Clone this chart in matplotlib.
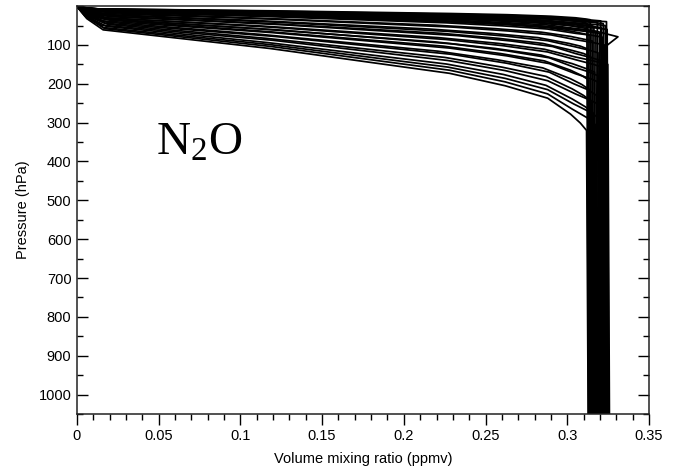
import matplotlib
matplotlib.use('Agg')
import matplotlib.pyplot as plt
from matplotlib.ticker import MultipleLocator

# pressure nodes (hPa) of each N2O profile
profile_pressure = [
    [1, 4, 7, 12, 19, 22, 26, 30, 33, 35, 1060],
    [1, 4, 7, 13, 21, 24, 28, 33, 36, 38, 1060],
    [1, 4, 8, 14, 22, 26, 30, 35, 38, 40, 1060],
    [1, 4, 8, 14, 23, 27, 31, 37, 39, 42, 1060],
    [1, 4, 8, 15, 24, 28, 33, 38, 41, 44, 1060],
    [1, 5, 9, 15, 24, 29, 33, 39, 42, 45, 1060],
    [1, 5, 9, 16, 26, 31, 36, 42, 45, 48, 1060],
    [1, 5, 10, 17, 27, 32, 37, 44, 47, 50, 1060],
    [1, 5, 10, 18, 28, 33, 38, 45, 49, 52, 1060],
    [1, 6, 10, 19, 30, 35, 41, 48, 52, 55, 1060],
    [1, 6, 11, 20, 31, 37, 43, 50, 55, 58, 1060],
    [1, 6, 11, 20, 32, 38, 44, 52, 56, 60, 1060],
    [1, 7, 12, 22, 35, 42, 48, 57, 61, 65, 1060],
    [1, 7, 13, 24, 38, 45, 52, 61, 66, 70, 1060],
    [1, 8, 14, 26, 41, 48, 56, 65, 71, 75, 1060],
    [1, 8, 15, 27, 43, 51, 59, 70, 75, 80, 1060],
    [1, 9, 17, 31, 49, 58, 67, 78, 85, 90, 1060],
    [1, 10, 19, 34, 54, 64, 74, 87, 94, 100, 1060],
    [1, 11, 21, 37, 59, 70, 81, 96, 103, 110, 1060],
    [1, 12, 23, 41, 65, 77, 89, 104, 113, 120, 1060],
    [1, 13, 25, 44, 70, 83, 96, 113, 122, 130, 1060],
    [1, 14, 27, 48, 76, 90, 104, 122, 132, 140, 1060],
    [1, 15, 29, 51, 81, 96, 111, 131, 141, 150, 1060],
    [1, 16, 30, 54, 86, 102, 118, 139, 150, 160, 1060],
    [1, 17, 32, 58, 92, 109, 126, 148, 160, 170, 1060],
    [1, 18, 34, 61, 97, 115, 133, 157, 169, 180, 1060],
    [1, 19, 36, 65, 103, 122, 141, 165, 179, 190, 1060],
    [1, 20, 38, 68, 108, 128, 148, 174, 188, 200, 1060],
    [1, 22, 41, 73, 116, 138, 159, 187, 202, 215, 1060],
    [1, 23, 44, 78, 124, 147, 170, 200, 216, 230, 1060],
    [1, 25, 47, 83, 132, 157, 181, 213, 230, 245, 1060],
    [1, 26, 49, 88, 140, 166, 192, 226, 244, 260, 1060],
    [1, 28, 52, 94, 149, 176, 204, 239, 259, 275, 1060],
    [1, 29, 55, 99, 157, 186, 215, 252, 273, 290, 1060],
    [1, 31, 58, 104, 165, 195, 226, 265, 287, 305, 1060],
    [1, 32, 61, 109, 173, 205, 237, 278, 301, 320, 1060],
    [1, 7, 13, 24, 38, 45, 52, 65, 79, 102, 1060],
]

# N2O volume mixing ratio (ppmv) at those nodes
profile_vmr = [
    [0, 0.003, 0.010, 0.118, 0.229, 0.263, 0.290, 0.305, 0.311, 0.3140, 0.3150],
    [0, 0.004, 0.013, 0.121, 0.231, 0.265, 0.291, 0.306, 0.315, 0.3205, 0.3215],
    [0, 0.004, 0.012, 0.120, 0.230, 0.264, 0.290, 0.306, 0.316, 0.3240, 0.3250],
    [0, 0.005, 0.015, 0.112, 0.222, 0.258, 0.285, 0.304, 0.313, 0.3184, 0.3194],
    [0, 0.004, 0.011, 0.116, 0.226, 0.261, 0.288, 0.303, 0.309, 0.3120, 0.3130],
    [0, 0.006, 0.018, 0.125, 0.232, 0.266, 0.291, 0.306, 0.316, 0.3220, 0.3230],
    [0, 0.004, 0.014, 0.110, 0.218, 0.255, 0.283, 0.302, 0.310, 0.3151, 0.3161],
    [0, 0.007, 0.020, 0.122, 0.228, 0.262, 0.288, 0.305, 0.316, 0.3232, 0.3242],
    [0, 0.005, 0.016, 0.115, 0.224, 0.259, 0.286, 0.303, 0.311, 0.3163, 0.3173],
    [0, 0.006, 0.017, 0.119, 0.227, 0.262, 0.289, 0.304, 0.314, 0.3208, 0.3218],
    [0, 0.008, 0.022, 0.108, 0.215, 0.252, 0.281, 0.301, 0.308, 0.3127, 0.3137],
    [0, 0.005, 0.015, 0.121, 0.229, 0.264, 0.290, 0.306, 0.317, 0.3244, 0.3254],
    [0, 0.006, 0.019, 0.116, 0.225, 0.260, 0.287, 0.304, 0.312, 0.3175, 0.3185],
    [0, 0.007, 0.018, 0.113, 0.220, 0.256, 0.284, 0.303, 0.313, 0.3196, 0.3206],
    [0, 0.004, 0.013, 0.124, 0.231, 0.264, 0.289, 0.303, 0.310, 0.3139, 0.3149],
    [0, 0.006, 0.016, 0.117, 0.226, 0.261, 0.288, 0.305, 0.315, 0.3216, 0.3226],
    [0, 0.008, 0.021, 0.111, 0.219, 0.256, 0.284, 0.302, 0.310, 0.3155, 0.3165],
    [0, 0.005, 0.017, 0.123, 0.230, 0.264, 0.290, 0.306, 0.316, 0.3228, 0.3238],
    [0, 0.006, 0.014, 0.109, 0.216, 0.253, 0.282, 0.301, 0.308, 0.3123, 0.3133],
    [0, 0.007, 0.019, 0.120, 0.227, 0.262, 0.288, 0.304, 0.313, 0.3188, 0.3198],
    [0, 0.005, 0.016, 0.114, 0.223, 0.258, 0.285, 0.302, 0.310, 0.3143, 0.3153],
    [0, 0.006, 0.020, 0.126, 0.233, 0.266, 0.291, 0.305, 0.314, 0.3204, 0.3214],
    [0, 0.004, 0.012, 0.112, 0.221, 0.258, 0.286, 0.305, 0.316, 0.3248, 0.3258],
    [0, 0.007, 0.018, 0.118, 0.226, 0.261, 0.288, 0.306, 0.316, 0.3236, 0.3246],
    [0, 0.006, 0.015, 0.110, 0.219, 0.256, 0.284, 0.303, 0.311, 0.3167, 0.3177],
    [0, 0.005, 0.017, 0.122, 0.229, 0.263, 0.289, 0.304, 0.313, 0.3192, 0.3202],
    [0, 0.008, 0.020, 0.115, 0.224, 0.259, 0.286, 0.302, 0.309, 0.3131, 0.3141],
    [0, 0.006, 0.016, 0.119, 0.228, 0.263, 0.289, 0.305, 0.315, 0.3212, 0.3222],
    [0, 0.005, 0.018, 0.113, 0.221, 0.257, 0.285, 0.302, 0.309, 0.3135, 0.3145],
    [0, 0.007, 0.017, 0.121, 0.229, 0.263, 0.289, 0.304, 0.313, 0.3179, 0.3189],
    [0, 0.006, 0.019, 0.116, 0.225, 0.260, 0.287, 0.303, 0.310, 0.3147, 0.3157],
    [0, 0.005, 0.015, 0.120, 0.227, 0.262, 0.288, 0.305, 0.315, 0.3224, 0.3234],
    [0, 0.007, 0.018, 0.117, 0.226, 0.261, 0.287, 0.303, 0.311, 0.3159, 0.3169],
    [0, 0.006, 0.016, 0.118, 0.227, 0.262, 0.288, 0.304, 0.314, 0.3200, 0.3210],
    [0, 0.008, 0.017, 0.119, 0.228, 0.262, 0.288, 0.303, 0.312, 0.3171, 0.3181],
    [0, 0.006, 0.016, 0.118, 0.228, 0.262, 0.288, 0.302, 0.308, 0.3118, 0.3128],
    [0, 0.006, 0.017, 0.118, 0.226, 0.262, 0.288, 0.318, 0.331, 0.324, 0.3210],
]

x_ticks = [0, 0.05, 0.1, 0.15, 0.2, 0.25, 0.3, 0.35]
x_tick_labels = ['0', '0.05', '0.1', '0.15', '0.2', '0.25', '0.3', '0.35']
y_ticks = [100, 200, 300, 400, 500, 600, 700, 800, 900, 1000]

plt.rcParams['font.family'] = ['Liberation Sans', 'DejaVu Sans']
plt.rcParams['mathtext.fontset'] = 'custom'
plt.rcParams['mathtext.rm'] = 'Liberation Serif'
plt.rcParams['mathtext.it'] = 'Liberation Serif:italic'

fig = plt.figure(figsize=(6.83, 4.72), dpi=100)
ax = fig.add_axes([0.1127, 0.123, 0.8375, 0.864])

for p, v in zip(profile_pressure, profile_vmr):
    ax.plot(v, p, color='black', lw=1.25, solid_joinstyle='round')

ax.set_xlim(0, 0.35)
ax.set_ylim(1050, 0)
ax.set_xticks(x_ticks)
ax.set_xticklabels(x_tick_labels)
ax.set_yticks(y_ticks)
ax.xaxis.set_minor_locator(MultipleLocator(0.01))
ax.yaxis.set_minor_locator(MultipleLocator(50))

ax.tick_params(axis='x', which='both', direction='out', top=False, labelsize=10.5, pad=3)
ax.tick_params(axis='x', which='major', length=8, width=1)
ax.tick_params(axis='x', which='minor', length=4, width=1)
ax.tick_params(axis='y', which='both', direction='in', left=True, right=True, labelsize=10.5, pad=4)
ax.tick_params(axis='y', which='major', length=8, width=1)
ax.tick_params(axis='y', which='minor', length=4, width=1)
for s in ax.spines.values():
    s.set_linewidth(1.1)
    s.set_color('#222222')

ax.set_xlabel('Volume mixing ratio (ppmv)', fontsize=10.5, labelpad=6)
ax.set_ylabel('Pressure (hPa)', fontsize=10.5, labelpad=6)

fig.text(0.228, 0.672, r'$\mathrm{N_2O}$', fontsize=34, ha='left', va='baseline')

fig.savefig('out.png', dpi=100, facecolor='white')
